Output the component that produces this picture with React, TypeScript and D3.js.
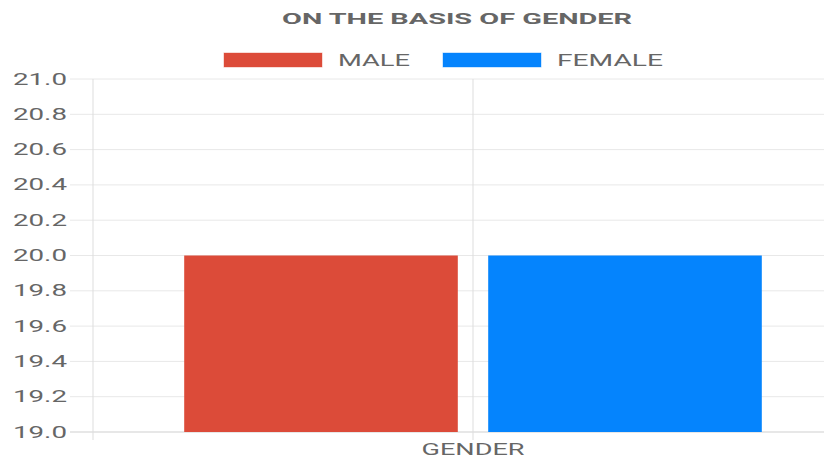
import React from "react";
import * as d3 from "d3";

const categories = ["GENDER"];
const seriesNames = ["MALE", "FEMALE"];
const seriesValues = [20.0, 20.0];
const seriesColors = ["#dc4b39", "#0584fd"];
const yTicks = [19.0, 19.2, 19.4, 19.6, 19.8, 20.0, 20.2, 20.4, 20.6, 20.8, 21.0];
const titleText = "ON THE BASIS OF GENDER";

const W = 824;
const H = 459;

export default function App() {
  const y = d3.scaleLinear().domain([19, 21]).range([432, 79]);
  const x0 = d3.scaleBand().domain(categories).range([93, 853]).padding(0);
  const cw = x0.bandwidth();
  const x1 = d3
    .scaleBand()
    .domain(seriesNames)
    .range([0.1 * cw, 0.9 * cw])
    .paddingInner(0.1)
    .paddingOuter(0.05);
  const textColor = "#666666";
  const font = "Roboto, 'Liberation Sans', Arial, sans-serif";

  const legendItems = [
    { box: 224, text: 338, len: 72 },
    { box: 443, text: 557, len: 106 },
  ];

  return (
    <svg
      width={W}
      height={H}
      style={{ position: "absolute", left: 0, top: 0, background: "#fff" }}
      fontFamily={font}
    >
      <rect x={0} y={0} width={W} height={H} fill="#ffffff" />
      <text
        x={457}
        y={24}
        textAnchor="middle"
        fontSize={15.5}
        fontWeight="bold"
        fill={textColor}
        textLength={350}
        lengthAdjust="spacingAndGlyphs"
      >
        {titleText}
      </text>
      {seriesNames.map((s, i) => (
        <g key={s}>
          <rect
            x={legendItems[i].box}
            y={53}
            width={98}
            height={14}
            fill={seriesColors[i]}
            stroke={seriesColors[i]}
            strokeOpacity={0.4}
            strokeWidth={1}
          />
          <text
            x={legendItems[i].text}
            y={65.5}
            fontSize={17}
            fill={textColor}
            textLength={legendItems[i].len}
            lengthAdjust="spacingAndGlyphs"
          >
            {s}
          </text>
        </g>
      ))}
      {yTicks.map((t) => (
        <g key={t}>
          <line
            x1={70}
            x2={W}
            y1={y(t)}
            y2={y(t)}
            stroke={t === 19 ? "#cfcfcf" : "#e8e8e8"}
            strokeWidth={1}
          />
          <text
            x={67}
            y={y(t) + 5.5}
            textAnchor="end"
            fontSize={16}
            fill={textColor}
            textLength={54}
            lengthAdjust="spacingAndGlyphs"
          >
            {t.toFixed(1)}
          </text>
        </g>
      ))}
      <line x1={93} x2={93} y1={79} y2={440} stroke="#dddddd" strokeWidth={1} />
      {categories.map((c) => (
        <line
          key={c}
          x1={(x0(c) as number) + cw / 2}
          x2={(x0(c) as number) + cw / 2}
          y1={79}
          y2={440}
          stroke="#dddddd"
          strokeWidth={1}
        />
      ))}
      {categories.map((c) =>
        seriesNames.map((s, i) => (
          <rect
            key={c + s}
            x={(x0(c) as number) + (x1(s) as number)}
            y={y(seriesValues[i])}
            width={x1.bandwidth()}
            height={y(19) - y(seriesValues[i])}
            fill={seriesColors[i]}
          />
        ))
      )}
      {categories.map((c) => (
        <text
          key={c}
          x={(x0(c) as number) + cw / 2}
          y={455}
          textAnchor="middle"
          fontSize={17}
          fill={textColor}
          textLength={103}
          lengthAdjust="spacingAndGlyphs"
        >
          {c}
        </text>
      ))}
    </svg>
  );
}
